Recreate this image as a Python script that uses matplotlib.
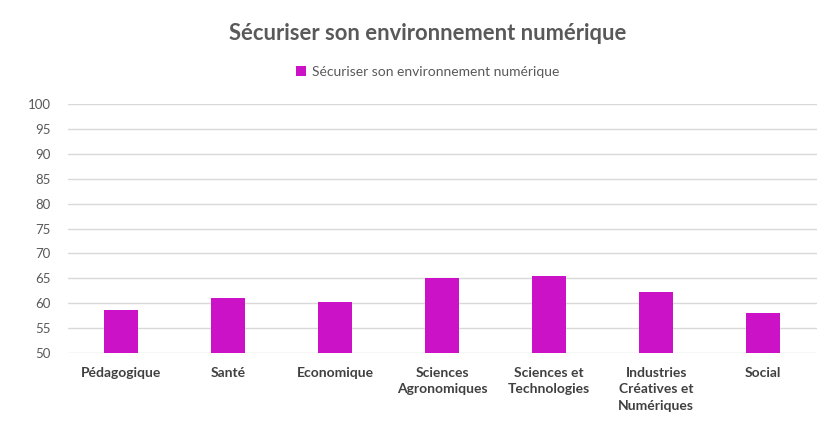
import matplotlib.pyplot as plt
import numpy as np

# chart data
categories = ['Pédagogique', 'Santé', 'Economique', 'Sciences\nAgronomiques',
              'Sciences et\nTechnologies', 'Industries\nCréatives et\nNumériques', 'Social']
values = [58.6, 61.0, 60.3, 65.0, 65.5, 62.3, 58.1]
series_name = 'Sécuriser son environnement numérique'
title = 'Sécuriser son environnement numérique'
yticks = list(range(50, 101, 5))

plt.rcParams['font.family'] = ['Lato', 'DejaVu Sans']

fig = plt.figure(figsize=(8.37, 4.32), dpi=100)
ax = fig.add_axes([0.0807, 0.183, 0.895, 0.576])

x = np.arange(len(categories))
ax.bar(x, values, width=0.32, color='#CC12C6', zorder=2, label=series_name)

ax.set_xlim(-0.5, len(categories) - 0.5)
ax.set_ylim(50, 100)
ax.set_yticks(yticks)
ax.set_yticklabels([str(t) for t in yticks], fontsize=9.5, color='#595959')
ax.set_xticks(x)
ax.set_xticklabels(categories, fontsize=10, fontweight='bold', color='#404040',
                   linespacing=1.45, va='top')
ax.tick_params(axis='both', length=0)
ax.tick_params(axis='y', pad=12)
ax.tick_params(axis='x', pad=10)

ax.grid(axis='y', color='#D9D9D9', linewidth=1, zorder=0)
for s in ax.spines.values():
    s.set_visible(False)

fig.text(0.511, 0.922, title, ha='center', va='center', fontsize=15.8,
         fontweight='bold', color='#595959')

leg = fig.legend(loc='center', bbox_to_anchor=(0.511, 0.833), frameon=False,
                 fontsize=10, handlelength=0.7, handleheight=0.7, handletextpad=0.4)
for t in leg.get_texts():
    t.set_color('#595959')

fig.savefig('out.png', dpi=100)
